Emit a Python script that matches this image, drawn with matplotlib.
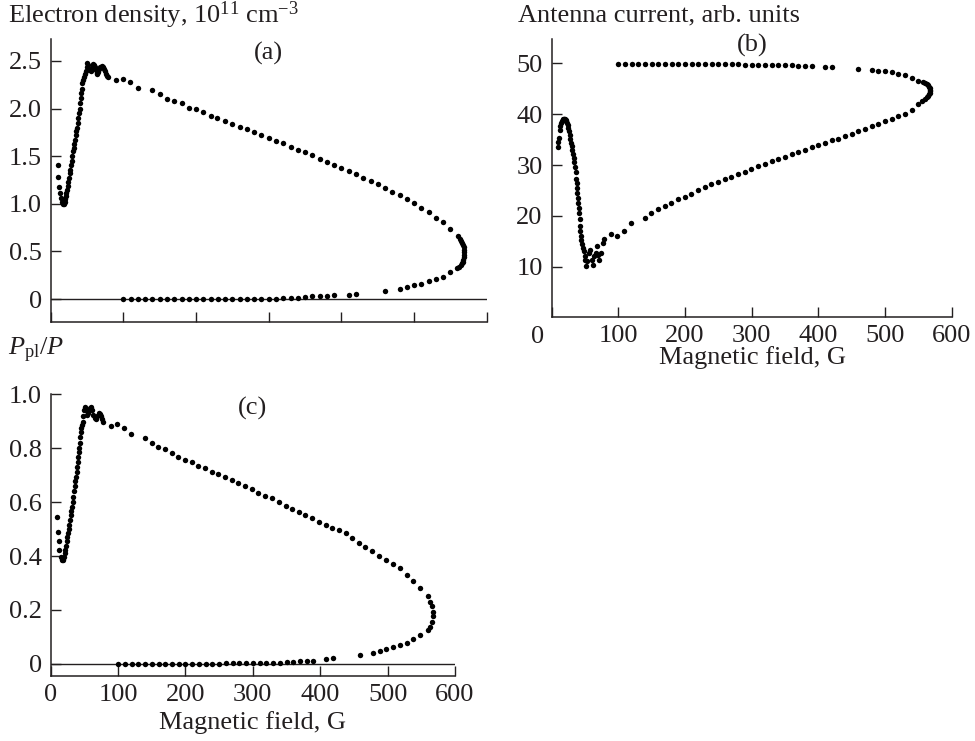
import matplotlib
matplotlib.use("Agg")
import matplotlib.pyplot as plt

plt.rcParams['font.family'] = ['Liberation Serif', 'DejaVu Serif']
plt.rcParams['mathtext.fontset'] = 'custom'
plt.rcParams['mathtext.rm'] = 'Liberation Serif'
plt.rcParams['mathtext.it'] = 'Liberation Serif:italic'

# ---- panel (a): electron density vs magnetic field ----
a_field = [9.5, 10.5, 11.4, 12.8, 14.2, 16, 17.4,
           18.5, 19.7, 20.3, 21, 21.7, 22.4, 23.3, 24.2, 25.1, 26, 26.9, 27.9, 28.8, 29.8,
           30.7, 31.6, 32.5, 33.4, 34.4, 35.3, 36.2, 37.1, 38, 38.9, 39.8, 40.8, 41.3, 41.7,
           42.6, 43.5, 44.6, 45.8, 47, 48.2, 49.3, 50.4,
           51.5, 52.7, 53.8, 55, 56.5, 57.6, 58.7, 59.8, 61, 62.2, 63.2, 64.2, 65.5, 66.9,
           68.5, 70.2, 71.8, 73.3, 74.7, 76.1, 77.7, 79.3,
           89.4, 99.9, 109.5, 119.7, 139.8, 150, 160, 170, 180.3, 190.3, 200, 210, 220, 229,
           240, 250, 260, 270, 280, 290, 300, 310, 320, 330, 340, 350, 360, 370, 380, 390,
           400, 410, 420, 430, 440, 450, 460, 470, 480, 490, 500, 510, 520, 530, 540, 550,
           560, 562.5, 564, 565.5, 567, 568, 568.6, 569, 568.6, 568.3, 567.8, 566.8, 565.6,
           564, 562, 559.5,
           550, 540, 530, 520, 510, 500, 490, 480, 460, 420, 410, 390, 380, 370, 360, 350,
           340, 330, 320, 310, 300, 290, 280, 270, 260, 250, 240, 230, 220, 210, 200, 190,
           180, 170, 160, 150, 140, 130, 120, 110, 100]
a_density = [1.41, 1.28, 1.18, 1.11, 1.06, 1.02, 1.00,
             1.00, 1.02, 1.05, 1.08, 1.11, 1.15, 1.19, 1.23, 1.27, 1.32, 1.36, 1.41, 1.45, 1.50,
             1.55, 1.59, 1.63, 1.67, 1.72, 1.76, 1.80, 1.85, 1.90, 1.95, 2.00, 2.06, 2.11, 2.16,
             2.21, 2.27, 2.30, 2.33, 2.36, 2.39, 2.44, 2.48,
             2.46, 2.42, 2.40, 2.39, 2.42, 2.45, 2.47, 2.46, 2.44, 2.40, 2.37, 2.36, 2.38, 2.41,
             2.44, 2.45, 2.44, 2.42, 2.39, 2.36, 2.34, 2.33,
             2.30, 2.31, 2.28, 2.22, 2.19, 2.15, 2.10, 2.08, 2.06, 2.01, 1.99, 1.96, 1.92, 1.90,
             1.87, 1.84, 1.81, 1.78, 1.755, 1.72, 1.695, 1.66, 1.64, 1.60, 1.566, 1.54, 1.51,
             1.475, 1.44, 1.41,
             1.374, 1.346, 1.31, 1.276, 1.24, 1.206, 1.164, 1.129, 1.094, 1.049, 1.007, 0.961,
             0.913, 0.856, 0.804, 0.734,
             0.657, 0.63, 0.61, 0.59, 0.57, 0.545, 0.517, 0.49, 0.465, 0.44, 0.41, 0.39, 0.377,
             0.36, 0.342, 0.325,
             0.28, 0.237, 0.213, 0.185, 0.16, 0.147, 0.132, 0.111, 0.087, 0.056, 0.048, 0.038,
             0.034, 0.030, 0.028, 0.024,
             0.012, 0.008, 0.007, 0.006, 0.005, 0.004, 0.004, 0.003, 0.003, 0.002, 0.002, 0.002,
             0.001, 0.001, 0.001, 0.001, 0.0, 0.0, 0.0, 0.0, 0.0, 0.0, 0.0, 0.0, 0.0]

# ---- panel (b): antenna current vs magnetic field ----
b_field = [9, 10, 11, 12, 13, 14, 15, 16.5,
           17, 18, 19, 20, 21, 22, 23, 24, 25, 26, 27, 28, 29, 30, 31, 32, 33, 34, 35, 36,
           37, 37.5, 38, 38.5, 39, 40, 40.7, 41.5, 42, 42.5, 43, 43.5, 44.5, 46, 47, 48.5,
           49.3, 50, 51,
           53.5, 56, 57.5, 60, 61.5, 64, 66.5, 68.5, 70, 71.5, 74, 76.5, 78.5,
           88.5, 98.5, 108.5, 119.4, 139.5, 149.4, 159.5, 169.5, 179.4, 189.5, 199.5, 209.4,
           219.5, 229.5, 239.4, 249.5, 259.5, 269.4, 279.5, 289.5, 299.4, 310, 320, 330, 340,
           350, 360, 370, 380, 390, 400, 410, 420, 430, 440, 450, 460, 470, 480, 490, 500,
           510, 520, 530, 540, 550, 555, 560,
           562.5, 564.5, 566, 567, 567.5, 567.5, 567, 566, 564.5, 562.5, 560, 557.5,
           550, 540, 530, 520, 510, 500, 490, 480, 460, 420, 410, 390, 380, 370, 360, 350,
           340, 330, 320, 310, 300, 290, 280, 270, 260, 250, 240, 230, 220, 210, 200, 190,
           180, 170, 160, 150, 140, 130, 120, 110, 100]
b_current = [33.45, 34.5, 35.3, 36.9, 37.6, 38.2, 38.6, 38.9,
             39.0, 39.1, 39.1, 39.0, 38.85, 38.6, 38.2, 37.8, 37.25, 36.6, 35.9, 35.2, 34.4,
             33.65, 32.9, 32.1, 31.3, 30.5, 29.7, 28.7, 27.3, 26.5, 25.5, 24.5, 23.5, 22.5,
             21.5, 20.6, 19.3, 18.0, 17.0, 16.0, 15.2, 14.4, 13.7, 13.05, 12.2, 11.4, 10.1,
             11.1, 12.7, 13.4, 11.4, 10.45, 12.1, 12.7, 14.0, 12.4, 11.4, 12.7, 14.7, 15.5,
             16.5, 16.1, 17.0, 18.6, 19.5, 20.6, 21.45, 21.9, 22.55, 23.3, 23.7, 24.4,
             25.0, 25.6, 26.2, 26.7, 27.2, 27.65, 28.3, 28.7, 29.2, 29.75, 30.2, 30.7, 31.15,
             31.6, 32.1, 32.55, 33.0, 33.5, 33.9, 34.4, 34.85, 35.2, 35.7, 36.15, 36.6, 37.1,
             37.6, 38.1, 38.6, 39.1, 39.6, 40.1, 40.9, 42.0, 42.6, 43.0,
             43.3, 43.6, 43.9, 44.2, 44.5, 44.8, 45.1, 45.4, 45.7, 45.95, 46.2, 46.4,
             46.6, 47.1, 47.6, 47.9, 48.2, 48.4, 48.55, 48.7, 48.9, 49.2, 49.25, 49.4, 49.45,
             49.5, 49.55, 49.6, 49.62, 49.65, 49.68, 49.7, 49.72, 49.74, 49.76, 49.78, 49.8,
             49.8, 49.82, 49.82, 49.83, 49.84, 49.84, 49.85, 49.85, 49.85, 49.86, 49.86,
             49.86, 49.87, 49.87, 49.87, 49.88]

# ---- panel (c): plasma power fraction vs magnetic field ----
c_field = [9.9, 10.9, 11.9, 12.9, 14.8, 16.8,
           18, 19.8, 20.7, 21.7, 22.7, 23.7, 24.7, 25.7, 26.7, 27.7, 28.7, 29.7, 30.6, 31.6,
           32.6, 33.6, 34.6, 35.6, 36.6, 37.6, 38.5, 39.5, 40.3, 41, 41.5, 42, 42.8, 43.5,
           44.3, 45, 46.3, 47.5, 48.5, 49.4,
           51.4, 52.9, 54.4, 55.9, 57.3, 58.8, 60.3, 61.8, 63.3, 65.2, 67.2, 69.2, 71.2,
           72.6, 74.1, 76.1, 78.1,
           89.5, 98.9, 108.7, 119.6, 139.4, 149.8, 159.7, 169.6, 179.4, 189.3, 199.2, 209,
           219, 228.9, 238.8, 248.6, 258.5, 268.4, 278.3, 288.2, 298.1, 308, 317.8, 327.7,
           338.6, 348.5, 358.4, 368.3, 378.1, 388, 397.9, 407.8, 417.7, 427.6, 437.5, 447.4,
           457.2, 467.1, 477, 486.9, 498.3, 508.2, 518, 528, 537.8, 548.7,
           560, 563.5, 566, 567.5, 567.5, 566.5, 563.5, 560,
           548.7, 537.8, 528, 518, 508.2, 498.3, 488.4, 478.5, 458.7, 419, 409, 389.5, 379.6,
           369.8, 359.9, 350, 340, 330, 320, 310, 300, 290, 280, 270, 260, 250, 240, 230, 220,
           210, 200, 190, 180, 170, 160, 150, 140, 130, 120, 110, 100]
c_ratio = [0.544, 0.49, 0.454, 0.423, 0.398, 0.386,
           0.385, 0.398, 0.41, 0.423, 0.438, 0.454, 0.47, 0.485, 0.50, 0.515, 0.535, 0.553,
           0.568, 0.583, 0.60, 0.62, 0.64, 0.658, 0.677, 0.695, 0.713, 0.732, 0.75, 0.769,
           0.785, 0.80, 0.82, 0.843, 0.86, 0.874, 0.885, 0.899, 0.92, 0.942,
           0.954, 0.94, 0.923, 0.93, 0.942, 0.95, 0.952, 0.94, 0.923, 0.912, 0.907, 0.92,
           0.932, 0.928, 0.92, 0.91, 0.899,
           0.884, 0.89, 0.876, 0.853, 0.837, 0.818, 0.803, 0.796, 0.781, 0.769, 0.756, 0.75,
           0.735, 0.726, 0.713, 0.703, 0.692, 0.682, 0.67, 0.66, 0.648, 0.635, 0.623, 0.614,
           0.602, 0.587, 0.575, 0.565, 0.553, 0.54, 0.528, 0.515, 0.503, 0.497, 0.485, 0.466,
           0.45, 0.435, 0.417, 0.40, 0.386, 0.371, 0.355, 0.33, 0.309, 0.28,
           0.25, 0.231, 0.213, 0.194, 0.176, 0.157, 0.138, 0.126,
           0.108, 0.091, 0.079, 0.07, 0.062, 0.054, 0.049, 0.042, 0.033, 0.02, 0.019, 0.012,
           0.01, 0.009, 0.007, 0.006, 0.005, 0.004, 0.004, 0.003, 0.003, 0.002, 0.002, 0.002,
           0.002, 0.001, 0.001, 0.001, 0.001, 0.001, 0.0, 0.0, 0.0, 0.0, 0.0, 0.0, 0.0,
           0.0, 0.0, 0.0, 0.0]

x_ticks = [0, 100, 200, 300, 400, 500, 600]
a_yticks = [0, 0.5, 1.0, 1.5, 2.0, 2.5]
a_ylabels = ['0', '0.5', '1.0', '1.5', '2.0', '2.5']
b_yticks = [10, 20, 30, 40, 50]
c_yticks = [0, 0.2, 0.4, 0.6, 0.8, 1.0]
c_ylabels = ['0', '0.2', '0.4', '0.6', '0.8', '1.0']

FS = 19
INK = '#231f20'

fig = plt.figure(figsize=(9.75, 7.41), dpi=100)


def style_axes(ax):
    for side in ('top', 'right'):
        ax.spines[side].set_visible(False)
    for side in ('left', 'bottom'):
        ax.spines[side].set_linewidth(1.1)
        ax.spines[side].set_color(INK)
    ax.tick_params(direction='in', length=7, width=1.0, color=INK,
                   labelsize=FS, labelcolor=INK, pad=6.5)
    ax.tick_params(axis='x', pad=6)
    ax.set_xlim(0, 600)
    ax.set_xticks(x_ticks)


def dots(ax, x, y):
    ax.plot(x, y, 'o', ms=3.9, color='black', mec='none', clip_on=False)


# (a)
ax_a = fig.add_axes([0.052, 0.5655, 0.4473, 0.3819])
style_axes(ax_a)
ax_a.set_ylim(-0.24, 2.73)
ax_a.set_yticks(a_yticks)
ax_a.set_yticklabels(a_ylabels)
ax_a.set_xticklabels([])
ax_a.axhline(0, color=INK, lw=1.0)
dots(ax_a, a_field, a_density)

# (b) -- the "0" label sits left of the axis corner in the original
ax_b = fig.add_axes([0.5658, 0.5726, 0.4103, 0.3744])
style_axes(ax_b)
ax_b.set_ylim(0.2, 54.7)
ax_b.set_yticks(b_yticks)
ax_b.set_xticklabels([''] + [str(t) for t in x_ticks[1:]])
fig.text(538 / 975, 1 - 337 / 741, '0', fontsize=FS, color=INK,
         ha='center', va='center')
dots(ax_b, b_field, b_current)

# (c)
ax_c = fig.add_axes([0.052, 0.0877, 0.4147, 0.3802])
style_axes(ax_c)
ax_c.set_ylim(-0.045, 1.0)
ax_c.set_yticks(c_yticks)
ax_c.set_yticklabels(c_ylabels)
ax_c.axhline(0, color=INK, lw=1.0)
dots(ax_c, c_field, c_ratio)

# titles and labels
fig.text(0.0082, 0.9798, 'Electron density, 10$^{11}$ cm$^{-3}$', fontsize=FS,
         color=INK, ha='left', va='center')
fig.text(0.5313, 0.9798, 'Antenna current, arb. units', fontsize=FS,
         color=INK, ha='left', va='center')
fig.text(0.0082, 0.5277, r'$P_{\mathrm{pl}}/P$', fontsize=FS, color=INK,
         ha='left', va='center')
fig.text(0.2749, 0.9285, '(a)', fontsize=FS, color=INK, ha='center', va='center')
fig.text(0.7713, 0.9393, '(b)', fontsize=FS, color=INK, ha='center', va='center')
fig.text(0.2585, 0.4494, '(c)', fontsize=FS, color=INK, ha='center', va='center')
fig.text(0.7713, 0.5182, 'Magnetic field, G', fontsize=FS, color=INK,
         ha='center', va='center')
fig.text(0.2585, 0.0256, 'Magnetic field, G', fontsize=FS, color=INK,
         ha='center', va='center')

fig.savefig('out.png', dpi=100)
